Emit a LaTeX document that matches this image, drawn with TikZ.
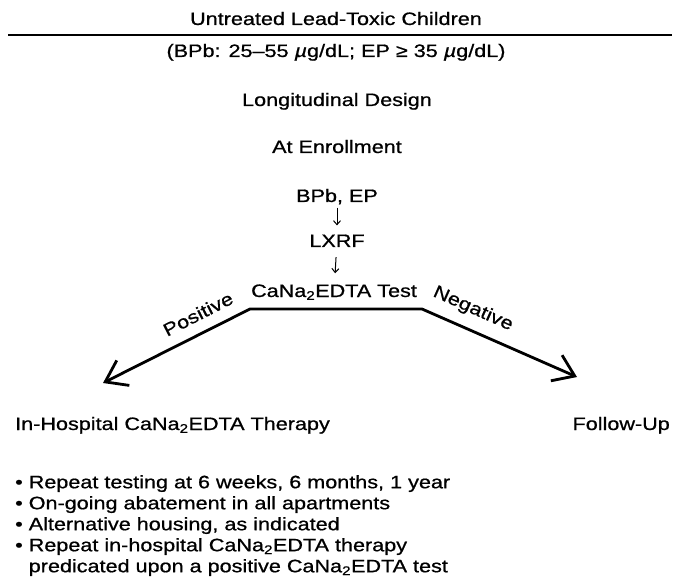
\documentclass[tikz,border=0pt]{standalone}
\usepackage{fontspec}
\setmainfont{Liberation Sans}[FakeStretch=1.2, FakeBold=0.8]
\usetikzlibrary{arrows.meta}

\begin{document}
\begin{tikzpicture}[x=1pt, y=-1pt,
    every node/.style={inner sep=0pt, font=\fontsize{18}{21}\selectfont},
    lbl/.style={anchor=base},
    flow/.style={-{Straight Barb[length=4pt,width=7pt]}, line width=1pt},
    branch/.style={line width=2.8pt, line join=round,
        {Straight Barb[length=20pt,width=28pt,line width=2.8pt]}-{Straight Barb[length=20pt,width=28pt,line width=2.8pt]}}
]
\useasboundingbox (0,0) rectangle (674,577);
% heading and rule
\node[lbl] (title) at (336,25) {Untreated Lead-Toxic Children};
\draw[line width=1.5pt] (8,35) -- (672,35);
\node[lbl] (range) at (336,57) {(BPb: 25--55 {\itshape µ}g/dL; EP ≥ 35 {\itshape µ}g/dL)};
\node[lbl] (design) at (337,106) {Longitudinal Design};
\node[lbl] (enrol) at (337,153) {At Enrollment};
% testing sequence
\node[lbl] (bpb) at (337,202) {BPb, EP};
\node[lbl] (lxrf) at (337,247) {LXRF};
\node[lbl] (test) at (334,297) {CaNa\textsubscript{2}EDTA Test};
\draw[flow, shorten <=3pt, shorten >=9pt] (bpb) -- (lxrf);
\draw[flow, shorten <=10pt, shorten >=11pt] (lxrf) -- (test);
% outcome branches
\coordinate (tl) at (250,309);
\coordinate (tr) at (422,309);
\coordinate (ptip) at (103,383);
\coordinate (ntip) at (577,377);
\draw[branch] (ptip) -- (tl) -- (tr) -- (ntip);
\node[rotate=27] (pos) at (198,314) {Positive};
\node[rotate=-24] (neg) at (473,309) {Negative};
% results
\node[anchor=base west] (therapy) at (15,430) {In-Hospital CaNa\textsubscript{2}EDTA Therapy};
\node[anchor=base east] (follow) at (670,430) {Follow-Up};
\node[anchor=north west, align=left] (plan) at (15,475) {%
\textbullet\ Repeat testing at 6 weeks, 6 months, 1 year\\
\textbullet\ On-going abatement in all apartments\\
\textbullet\ Alternative housing, as indicated\\
\textbullet\ Repeat in-hospital CaNa\textsubscript{2}EDTA therapy\\
\hphantom{\textbullet\ }predicated upon a positive CaNa\textsubscript{2}EDTA test};
\end{tikzpicture}
\end{document}
